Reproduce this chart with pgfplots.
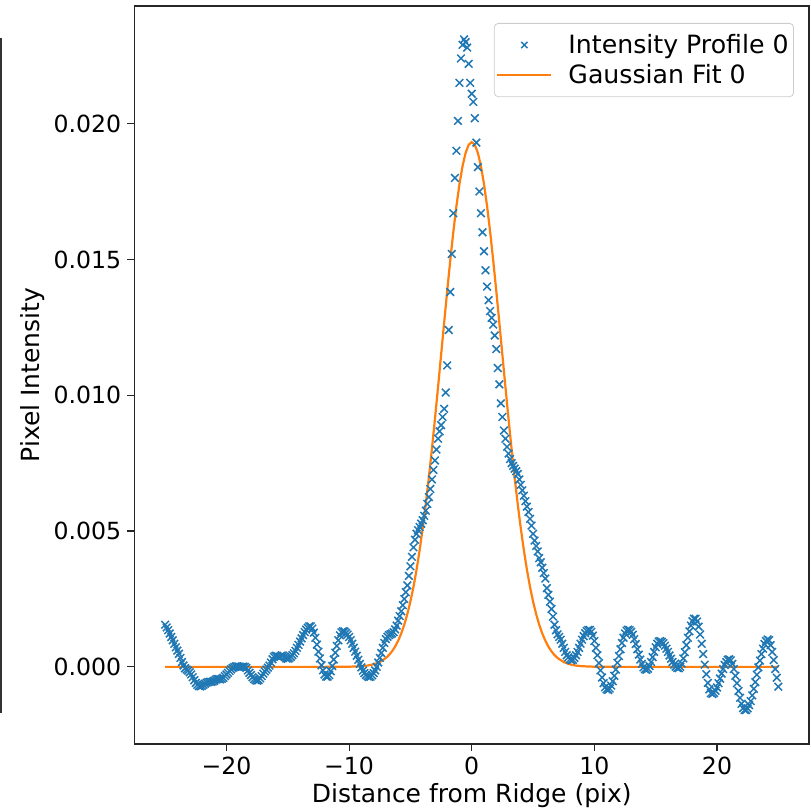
\documentclass[border=0pt]{standalone}
\usepackage{fontspec}
\setmainfont{DejaVu Sans}
\usepackage{pgfplots}
\pgfplotsset{compat=1.18}
\definecolor{mplblue}{HTML}{1F77B4}
\definecolor{mplorange}{HTML}{FF7F0E}
\pgfplotsset{
  legx/.style={legend image code/.code={\draw[##1, mark size=2.2pt] plot coordinates {(13.5pt,0pt)};}},
  legline/.style={legend image code/.code={\draw[##1] (0pt,0pt) -- (27pt,0pt);}},
}
\begin{document}
\begin{tikzpicture}
\begin{axis}[
  at={(0,0)}, anchor=south west,
  scale only axis, width=337.25pt, height=369pt,
  xmin=-27.5, xmax=27.5, ymin=-0.00284, ymax=0.02433,
  axis line style={line width=0.6pt, black!85},
  tick align=outside, tick pos=left,
  major tick length=3.5pt,
  every tick/.style={black!85, line width=0.6pt},
  xtick={-20,-10,0,10,20},
  xticklabels={−20,−10,0,10,20},
  ytick={0,0.005,0.01,0.015,0.02},
  yticklabels={0.000,0.005,0.010,0.015,0.020},
  scaled y ticks=false,
  ticklabel style={font=\fontsize{11.8}{14}\selectfont, inner sep=0pt},
  xticklabel style={anchor=north, yshift=-3pt},
  yticklabel style={anchor=east, xshift=-3pt},
  xlabel={Distance from Ridge (pix)},
  ylabel={Pixel Intensity},
  label style={font=\fontsize{12.5}{15}\selectfont, inner sep=0pt},
  xlabel style={at={(axis description cs:0.5,-0.053)}, anchor=north},
  ylabel style={at={(axis description cs:-0.1505,0.5)}, anchor=center},
  legend style={at={(1,1)}, anchor=north east, xshift=-7.5pt, yshift=-8.5pt,
    draw=black!20, rounded corners=2pt, fill=white,
    font=\fontsize{12.6}{15}\selectfont, inner xsep=1pt, inner ysep=3.75pt,
    row sep=1pt, column sep=6.5pt, nodes={inner sep=1.5pt}},
  legend cell align=left,
]
\addplot[only marks, mark=x, mark size=2.7pt, color=mplblue, mark options={line width=0.75pt}, legx] coordinates {
(-25,0.00155) (-24.875,0.00145) (-24.75,0.00135) (-24.625,0.00123) (-24.5,0.0011) (-24.375,0.00098) (-24.25,0.00085) (-24.125,0.00072)
(-24,0.0006) (-23.875,0.00048) (-23.75,0.00033) (-23.625,0.00018) (-23.5,0.00005) (-23.375,-0.00005) (-23.25,-0.0001) (-23.125,-0.00014)
(-23,-0.0002) (-22.875,-0.00028) (-22.75,-0.00038) (-22.625,-0.00049) (-22.5,-0.00059) (-22.375,-0.00066) (-22.25,-0.00071) (-22.125,-0.00072)
(-22,-0.0007) (-21.875,-0.00066) (-21.75,-0.00062) (-21.625,-0.00058) (-21.5,-0.00056) (-21.375,-0.00055) (-21.25,-0.00055) (-21.125,-0.00054)
(-21,-0.00051) (-20.875,-0.00047) (-20.75,-0.00045) (-20.625,-0.00045) (-20.5,-0.00046) (-20.375,-0.00044) (-20.25,-0.0004) (-20.125,-0.00034)
(-20,-0.00028) (-19.875,-0.00022) (-19.75,-0.00015) (-19.625,-0.00009) (-19.5,-0.00004) (-19.375,-0.00001) (-19.25,0.00002) (-19.125,0.00002)
(-19,0.00001) (-18.875,0) (-18.75,0) (-18.625,0.00001) (-18.5,0) (-18.375,-0.00004) (-18.25,-0.00013) (-18.125,-0.00022)
(-18,-0.0003) (-17.875,-0.00038) (-17.75,-0.00045) (-17.625,-0.00049) (-17.5,-0.00051) (-17.375,-0.00049) (-17.25,-0.00042) (-17.125,-0.00034)
(-17,-0.00025) (-16.875,-0.00017) (-16.75,-0.0001) (-16.625,-0.00003) (-16.5,0.00005) (-16.375,0.00016) (-16.25,0.00028) (-16.125,0.00037)
(-16,0.00041) (-15.875,0.0004) (-15.75,0.00037) (-15.625,0.00038) (-15.5,0.00042) (-15.375,0.00041) (-15.25,0.00036) (-15.125,0.00031)
(-15,0.0003) (-14.875,0.00032) (-14.75,0.00037) (-14.625,0.00043) (-14.5,0.0005) (-14.375,0.00059) (-14.25,0.0007) (-14.125,0.00081)
(-14,0.00093) (-13.875,0.00105) (-13.75,0.00117) (-13.625,0.00128) (-13.5,0.00137) (-13.375,0.00144) (-13.25,0.00149) (-13.125,0.00149)
(-13,0.00141) (-12.875,0.00126) (-12.75,0.00107) (-12.625,0.00082) (-12.5,0.00056) (-12.375,0.00031) (-12.25,0.00006) (-12.125,-0.00013)
(-12,-0.00028) (-11.875,-0.00036) (-11.75,-0.00036) (-11.625,-0.0003) (-11.5,-0.00016) (-11.375,0.00003) (-11.25,0.00027) (-11.125,0.00052)
(-11,0.00077) (-10.875,0.00098) (-10.75,0.00116) (-10.625,0.00127) (-10.5,0.00131) (-10.375,0.0013) (-10.25,0.00125) (-10.125,0.00119)
(-10,0.0011) (-9.875,0.00098) (-9.75,0.00085) (-9.625,0.0007) (-9.5,0.00056) (-9.375,0.00041) (-9.25,0.00026) (-9.125,0.00011)
(-9,-0.00002) (-8.875,-0.00014) (-8.75,-0.00023) (-8.625,-0.0003) (-8.5,-0.00035) (-8.375,-0.00037) (-8.25,-0.00036) (-8.125,-0.00031)
(-8,-0.00023) (-7.875,-0.00013) (-7.75,0) (-7.625,0.00016) (-7.5,0.00033) (-7.375,0.00051) (-7.25,0.0007) (-7.125,0.00088)
(-7,0.00102) (-6.875,0.00111) (-6.75,0.00117) (-6.625,0.0012) (-6.5,0.00123) (-6.375,0.00128) (-6.25,0.00138) (-6.125,0.00152)
(-6,0.0017) (-5.875,0.00187) (-5.75,0.00205) (-5.625,0.00227) (-5.5,0.0025) (-5.375,0.00275) (-5.25,0.003) (-5.125,0.00335)
(-5,0.0037) (-4.875,0.00405) (-4.75,0.0044) (-4.625,0.00468) (-4.5,0.0049) (-4.375,0.00503) (-4.25,0.00515) (-4.125,0.00527)
(-4,0.0054) (-3.875,0.00556) (-3.75,0.00575) (-3.625,0.006) (-3.5,0.00625) (-3.375,0.00655) (-3.25,0.0069) (-3.125,0.00725)
(-3,0.0076) (-2.875,0.008) (-2.75,0.0084) (-2.625,0.00867) (-2.5,0.0089) (-2.375,0.0092) (-2.25,0.0095) (-2.125,0.0101)
(-2,0.0111) (-1.875,0.0124) (-1.75,0.0138) (-1.625,0.0152) (-1.5,0.0167) (-1.375,0.018) (-1.25,0.019) (-1.125,0.0201)
(-1,0.0215) (-0.875,0.0224) (-0.75,0.0229) (-0.625,0.0231) (-0.5,0.023) (-0.375,0.0228) (-0.25,0.0222) (-0.125,0.0215)
(0,0.0211) (0.125,0.0208) (0.25,0.0202) (0.375,0.0193) (0.5,0.0184) (0.625,0.0175) (0.75,0.0167) (0.875,0.016)
(1,0.0153) (1.125,0.0146) (1.25,0.014) (1.375,0.0135) (1.5,0.0131) (1.625,0.01285) (1.75,0.0126) (1.875,0.0122)
(2,0.0117) (2.125,0.011) (2.25,0.0104) (2.375,0.0097) (2.5,0.0092) (2.625,0.0087) (2.75,0.0084) (2.875,0.0081)
(3,0.00785) (3.125,0.00765) (3.25,0.0075) (3.375,0.0074) (3.5,0.0073) (3.625,0.0072) (3.75,0.0071) (3.875,0.0069)
(4,0.0067) (4.125,0.0065) (4.25,0.0063) (4.375,0.0061) (4.5,0.0059) (4.625,0.0057) (4.75,0.00545) (4.875,0.0052)
(5,0.0049) (5.125,0.00465) (5.25,0.00445) (5.375,0.00425) (5.5,0.004) (5.625,0.00385) (5.75,0.00365) (5.875,0.00345)
(6,0.00325) (6.125,0.0029) (6.25,0.00265) (6.375,0.0024) (6.5,0.00213) (6.625,0.00185) (6.75,0.00155) (6.875,0.00135)
(7,0.0012) (7.125,0.0011) (7.25,0.001) (7.375,0.00085) (7.5,0.0007) (7.625,0.00055) (7.75,0.00043) (7.875,0.00035)
(8,0.00028) (8.125,0.00024) (8.25,0.00026) (8.375,0.00033) (8.5,0.00043) (8.625,0.00055) (8.75,0.0007) (8.875,0.00085)
(9,0.001) (9.125,0.00113) (9.25,0.00124) (9.375,0.00132) (9.5,0.00136) (9.625,0.00136) (9.75,0.00129) (9.875,0.00115)
(10,0.00095) (10.125,0.0007) (10.25,0.00043) (10.375,0.00014) (10.5,-0.00013) (10.625,-0.00039) (10.75,-0.0006) (10.875,-0.00075)
(11,-0.00083) (11.125,-0.00085) (11.25,-0.0008) (11.375,-0.00069) (11.5,-0.00053) (11.625,-0.00033) (11.75,-0.0001) (11.875,0.00015)
(12,0.0004) (12.125,0.00065) (12.25,0.00088) (12.375,0.00107) (12.5,0.00123) (12.625,0.00133) (12.75,0.00137) (12.875,0.00135)
(13,0.00129) (13.125,0.00118) (13.25,0.00102) (13.375,0.00084) (13.5,0.00065) (13.625,0.00045) (13.75,0.00027) (13.875,0.00011)
(14,-0.00002) (14.125,-0.00009) (14.25,-0.00011) (14.375,-0.00007) (14.5,0.00003) (14.625,0.00018) (14.75,0.00036) (14.875,0.00055)
(15,0.00072) (15.125,0.00085) (15.25,0.00093) (15.375,0.00095) (15.5,0.00092) (15.625,0.00087) (15.75,0.00078) (15.875,0.00067)
(16,0.00055) (16.125,0.00042) (16.25,0.0003) (16.375,0.00018) (16.5,0.00008) (16.625,0.00001) (16.75,-0.00004) (16.875,-0.00005)
(17,0) (17.125,0.00012) (17.25,0.00031) (17.375,0.00054) (17.5,0.0008) (17.625,0.00107) (17.75,0.00131) (17.875,0.00152)
(18,0.00168) (18.125,0.00177) (18.25,0.00177) (18.375,0.00167) (18.5,0.00148) (18.625,0.00119) (18.75,0.00085) (18.875,0.00047)
(19,0.00008) (19.125,-0.00027) (19.25,-0.00059) (19.375,-0.00083) (19.5,-0.00097) (19.625,-0.001) (19.75,-0.00096) (19.875,-0.00088)
(20,-0.00076) (20.125,-0.0006) (20.25,-0.00043) (20.375,-0.00025) (20.5,-0.00008) (20.625,0.00007) (20.75,0.00018) (20.875,0.00026)
(21,0.00028) (21.125,0.00024) (21.25,0.00011) (21.375,-0.00008) (21.5,-0.00033) (21.625,-0.0006) (21.75,-0.00089) (21.875,-0.00114)
(22,-0.00136) (22.125,-0.00152) (22.25,-0.00159) (22.375,-0.00159) (22.5,-0.00153) (22.625,-0.00141) (22.75,-0.00126) (22.875,-0.00105)
(23,-0.00081) (23.125,-0.00056) (23.25,-0.00029) (23.375,-0.00002) (23.5,0.00023) (23.625,0.00047) (23.75,0.00067) (23.875,0.00084)
(24,0.00095) (24.125,0.00101) (24.25,0.00098) (24.375,0.0008) (24.5,0.00055) (24.625,0.00025) (24.75,-0.00008) (24.875,-0.0004)
(25,-0.00073)
};
\addlegendentry{Intensity Profile 0}
\addplot[color=mplorange, line width=1.1pt, legline] coordinates {
(-25,0) (-12,0) (-10,0.000005) (-9,0.000023) (-8.5,0.000047) (-8,0.000094) (-7.5,0.000178) (-7,0.000326)
(-6.75,0.000434) (-6.5,0.000572) (-6.25,0.000746) (-6,0.000963) (-5.75,0.00123) (-5.5,0.001555) (-5.25,0.001945)
(-5,0.002408) (-4.75,0.002949) (-4.5,0.003576) (-4.25,0.004291) (-4,0.005096) (-3.75,0.005988) (-3.5,0.006964)
(-3.25,0.008015) (-3,0.009129) (-2.75,0.01029) (-2.5,0.011479) (-2.25,0.012672) (-2,0.013845) (-1.75,0.014969)
(-1.5,0.016018) (-1.25,0.016962) (-1,0.017776) (-0.75,0.018436) (-0.5,0.018922) (-0.25,0.01922) (0,0.01932)
(0.25,0.01922) (0.5,0.018922) (0.75,0.018436) (1,0.017776) (1.25,0.016962) (1.5,0.016018) (1.75,0.014969)
(2,0.013845) (2.25,0.012672) (2.5,0.011479) (2.75,0.01029) (3,0.009129) (3.25,0.008015) (3.5,0.006964)
(3.75,0.005988) (4,0.005096) (4.25,0.004291) (4.5,0.003576) (4.75,0.002949) (5,0.002408) (5.25,0.001945)
(5.5,0.001555) (5.75,0.00123) (6,0.000963) (6.25,0.000746) (6.5,0.000572) (6.75,0.000434) (7,0.000326)
(7.5,0.000178) (8,0.000094) (8.5,0.000047) (9,0.000023) (10,0.000005) (12,0) (25,0)
};
\addlegendentry{Gaussian Fit 0}
\end{axis}
\draw[black!80, line width=0.6pt] (-66.75pt,15.5pt) -- (-66.75pt,353pt);
\pgfresetboundingbox
\useasboundingbox (-67.25pt,-33pt) rectangle (338.25pt,372pt);
\end{tikzpicture}
\end{document}
